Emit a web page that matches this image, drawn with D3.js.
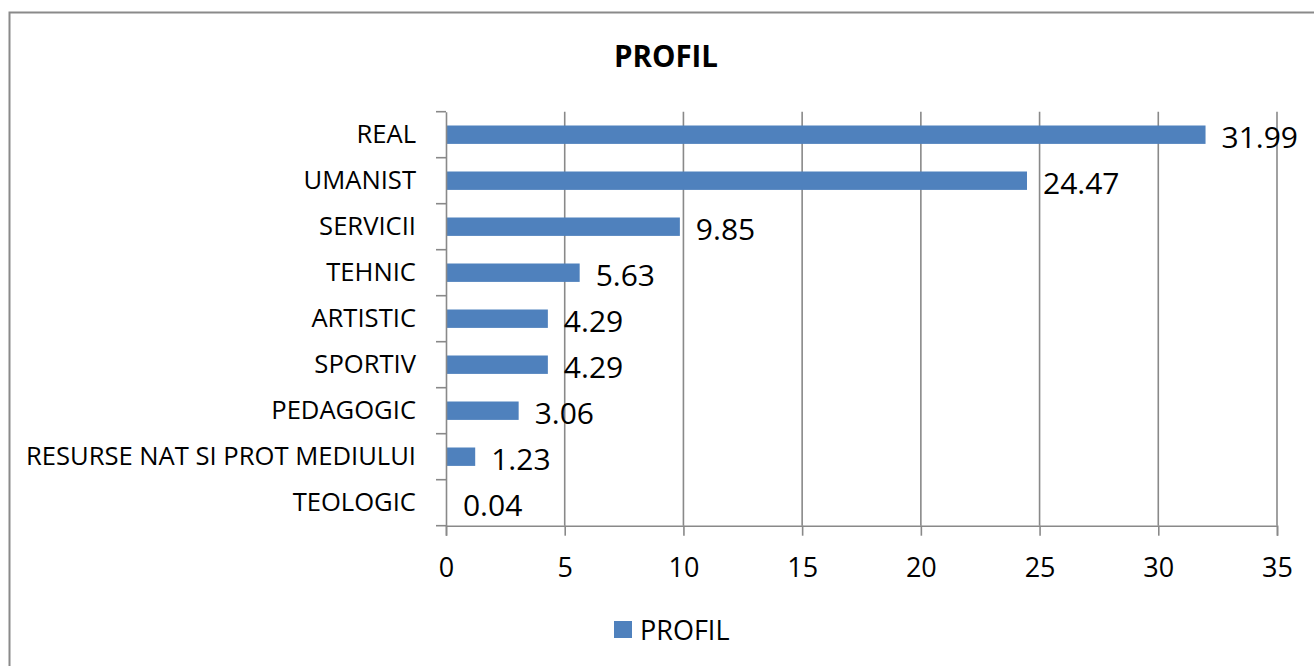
<!DOCTYPE html>
<html>
<head>
<meta charset="utf-8">
<script src="https://cdn.jsdelivr.net/npm/d3@7"></script>
<style>
  body { margin: 0; background: #fff; }
  text { font-family: "Open Sans", "Noto Sans", sans-serif; fill: #000; }
</style>
</head>
<body>
<script>
// dimensions de la page
var w = 1314, h = 666

// données
const categories = ["REAL", "UMANIST", "SERVICII", "TEHNIC", "ARTISTIC", "SPORTIV",
                    "PEDAGOGIC", "RESURSE NAT SI PROT MEDIULUI", "TEOLOGIC"];
const valori = [31.99, 24.47, 9.85, 5.63, 4.29, 4.29, 3.06, 1.23, 0.04];
const etichete = ["31.99", "24.47", "9.85", "5.63", "4.29", "4.29", "3.06", "1.23", "0.04"];
const xTicks = [0, 5, 10, 15, 20, 25, 30, 35];
const serie = "PROFIL";

var culoare = "#4F81BD", gri = "#898989";

var svg = d3.select("body").append("svg")
    .attr("width", w)
    .attr("height", h);

// cadre du graphique
svg.append("rect")
    .attr("x", 9.5).attr("y", 12.5)
    .attr("width", 1320).attr("height", 700)
    .attr("fill", "#fff")
    .attr("stroke", "#8a8a8a")
    .attr("stroke-width", 2);

var x = d3.scaleLinear().domain([0, 35]).range([446, 1277]);
var y = d3.scaleBand().domain(categories).range([111.7, 525.7]).paddingInner(0.6).paddingOuter(0.3);

// titre
svg.append("text")
    .attr("x", 666).attr("y", 56)
    .attr("text-anchor", "middle")
    .attr("dy", "0.36em")
    .style("font-weight", "bold")
    .style("font-size", "29.5px")
    .text(serie);

// lignes de grille verticales
svg.append("g").selectAll("line")
    .data(xTicks.slice(1))
    .enter().append("line")
    .attr("x1", d => x(d)).attr("x2", d => x(d))
    .attr("y1", 111.7).attr("y2", 525.7)
    .attr("stroke", gri).attr("stroke-width", 1.6);

// barres
svg.append("g").selectAll("rect")
    .data(valori)
    .enter().append("rect")
    .attr("x", x(0))
    .attr("y", (d, i) => y(categories[i]))
    .attr("width", d => x(d) - x(0))
    .attr("height", y.bandwidth())
    .attr("fill", culoare);

// étiquettes de valeurs
svg.append("g").selectAll("text")
    .data(valori)
    .enter().append("text")
    .attr("x", d => x(d) + 16)
    .attr("y", (d, i) => y(categories[i]) + y.bandwidth() / 2 + 2)
    .attr("dy", "0.36em")
    .style("font-size", "30px")
    .text((d, i) => etichete[i]);

// axe des x
var axeX = svg.append("g")
    .attr("transform", "translate(0,525.7)")
    .call(d3.axisBottom(x).tickValues(xTicks).tickSize(10).tickPadding(22).tickFormat(d3.format("d")));
axeX.select(".domain").attr("stroke", gri).attr("stroke-width", 1.6);
axeX.selectAll(".tick line").attr("stroke", gri).attr("stroke-width", 1.6);
axeX.selectAll("text").style("font-size", "27px").style("font-family", "'Open Sans', sans-serif").attr("fill", "#000");

// axe des y (catégories)
var axeY = svg.append("g")
    .attr("transform", "translate(446,0)")
    .call(d3.axisLeft(y).tickSize(0).tickPadding(30));
axeY.select(".domain").attr("stroke", gri).attr("stroke-width", 1.6);
axeY.selectAll("text").style("font-size", "25.6px").style("font-family", "'Open Sans', sans-serif").attr("fill", "#000");

// petites graduations entre les catégories
var pas = y.step();
var bornes = d3.range(categories.length + 1).map(i => 111.7 + i * pas);
svg.append("g").selectAll("line")
    .data(bornes)
    .enter().append("line")
    .attr("x1", 436).attr("x2", 446)
    .attr("y1", d => d).attr("y2", d => d)
    .attr("stroke", gri).attr("stroke-width", 1.6);

// légende
var leg = svg.append("g").attr("transform", "translate(614,621)");
leg.append("rect").attr("width", 18).attr("height", 17).attr("fill", culoare);
leg.append("text")
    .attr("x", 26).attr("y", 9.5)
    .attr("dy", "0.36em")
    .style("font-size", "27px")
    .text(serie);
</script>
</body>
</html>
